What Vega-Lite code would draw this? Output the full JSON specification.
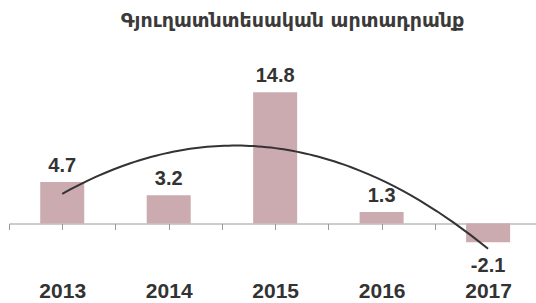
{
  "$schema": "https://vega.github.io/schema/vega-lite/v6.json",
  "width": 527,
  "height": 195,
  "autosize": {"type": "none"},
  "padding": {"left": 9, "top": 64, "right": 0, "bottom": 44},
  "background": "white",
  "title": {
    "text": "Գյուղատնտեսական արտադրանք",
    "font": "DejaVu Sans",
    "fontSize": 19,
    "fontWeight": "bold",
    "color": "#3a3a3a",
    "anchor": "middle",
    "dx": 20,
    "offset": 33
  },
  "data": {
    "values": [
      {"year": 2013, "value": 4.7},
      {"year": 2014, "value": 3.2},
      {"year": 2015, "value": 14.8},
      {"year": 2016, "value": 1.3},
      {"year": 2017, "value": -2.1}
    ]
  },
  "encoding": {
    "x": {
      "field": "year",
      "type": "quantitative",
      "scale": {"domain": [2012.5, 2017.45], "nice": false, "zero": false, "padding": 0},
      "axis": {
        "title": null,
        "values": [2012.5, 2013, 2013.5, 2014, 2014.5, 2015, 2015.5, 2016, 2016.5, 2017],
        "labelExpr": "datum.value % 1 == 0 ? '' + datum.value : ''",
        "offset": -35.5,
        "domainColor": "#9a9a9a",
        "tickColor": "#9a9a9a",
        "tickSize": 6,
        "labelPadding": 51,
        "labelFont": "Liberation Sans",
        "labelFontSize": 21,
        "labelFontWeight": "bold",
        "labelColor": "#333333",
        "labelOverlap": false,
        "labelFlush": false,
        "grid": false
      }
    },
    "y": {
      "field": "value",
      "type": "quantitative",
      "scale": {"domain": [-4, 18], "nice": false},
      "axis": null
    }
  },
  "layer": [
    {
      "mark": {"type": "bar", "width": 44, "color": "#cbaab0"}
    },
    {
      "transform": [{"filter": "datum.value >= 0"}],
      "mark": {"type": "text", "font": "Liberation Sans", "fontSize": 20, "fontWeight": "bold", "color": "#333333", "baseline": "alphabetic", "dy": -10},
      "encoding": {"text": {"field": "value", "type": "nominal"}}
    },
    {
      "transform": [{"filter": "datum.value < 0"}],
      "mark": {"type": "text", "font": "Liberation Sans", "fontSize": 20, "fontWeight": "bold", "color": "#333333", "baseline": "alphabetic", "dy": 30},
      "encoding": {"text": {"field": "value", "type": "nominal"}}
    },
    {
      "transform": [{"regression": "value", "on": "year", "method": "poly", "order": 2}],
      "mark": {"type": "line", "color": "#333333", "strokeWidth": 2}
    }
  ],
  "config": {"view": {"stroke": null}}
}
